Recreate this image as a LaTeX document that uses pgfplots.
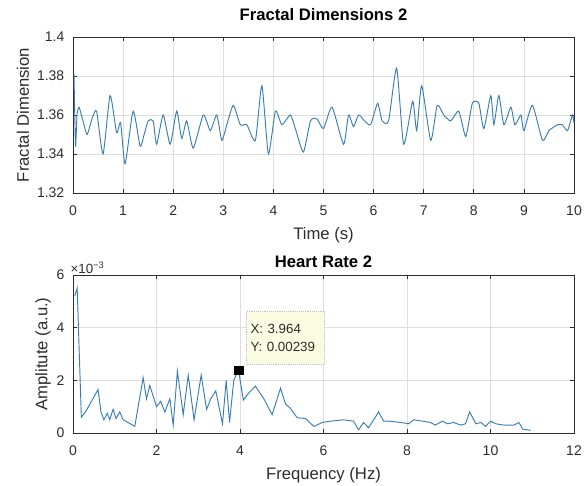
\documentclass[border=0pt]{standalone}
\usepackage{fontspec}
\setmainfont{Liberation Sans}
\usepackage{pgfplots}
\pgfplotsset{compat=1.18}

\definecolor{mline}{RGB}{55,125,180}
\definecolor{mgrid}{RGB}{222,222,222}
\definecolor{maxis}{RGB}{45,45,45}
\definecolor{tipbg}{RGB}{252,252,226}

\pgfplotsset{
  matlab/.style={
    scale only axis,
    width=375.75pt,
    grid=major,
    major grid style={mgrid, line width=0.5pt},
    axis line style={maxis, line width=0.6pt},
    tick style={maxis, line width=0.6pt},
    major tick length=3pt,
    tick align=inside,
    ticklabel style={font=\fontsize{10.5}{12}\selectfont, text=maxis},
    xticklabel style={yshift=-6pt},
    yticklabel style={xshift=-3pt},
    label style={font=\fontsize{12.5}{14}\selectfont, text=maxis},
    xlabel style={at={(axis description cs:0.5,0)}, anchor=center, yshift=-32pt},
    title style={font=\fontsize{12.5}{14}\selectfont\bfseries,
      at={(axis description cs:0.5,1)}, anchor=center, yshift=11pt},
    /pgf/number format/assume math mode=true,
    clip=true,
  },
}

\begin{document}
\begin{tikzpicture}

% ---------------- top: fractal dimension ----------------
\begin{axis}[
  matlab,
  at={(0,180pt)}, anchor=south west,
  height=117pt,
  xmin=0, xmax=10, ymin=1.32, ymax=1.4,
  xtick={0,1,...,10},
  ytick={1.32,1.34,1.36,1.38,1.4},
  yticklabels={1.32,1.34,1.36,1.38,1.4},
  title={Fractal Dimensions 2},
  xlabel={Time (s)},
  ylabel={Fractal Dimension},
  ylabel style={at={(axis description cs:-0.1,0.5)}, anchor=center},
]
\addplot[mline, line width=0.7pt, smooth, tension=0.35] coordinates {
(0.02,1.381) (0.05,1.344) (0.08,1.360) (0.12,1.364) (0.19,1.358) (0.28,1.350)
(0.38,1.358) (0.47,1.362) (0.6,1.340) (0.74,1.370) (0.87,1.351) (0.95,1.356)
(1.04,1.335) (1.2,1.362) (1.34,1.344) (1.42,1.350) (1.5,1.357) (1.6,1.357)
(1.67,1.345) (1.8,1.360) (1.94,1.345) (2.07,1.362) (2.17,1.348) (2.27,1.357)
(2.4,1.343) (2.6,1.360) (2.74,1.352) (2.87,1.360) (2.97,1.347) (3.07,1.355)
(3.2,1.365) (3.34,1.355) (3.47,1.355) (3.64,1.347) (3.77,1.375) (3.9,1.340)
(4.04,1.362) (4.17,1.355) (4.34,1.360) (4.45,1.352) (4.6,1.341) (4.74,1.357)
(4.87,1.358) (5.0,1.353) (5.17,1.364) (5.4,1.345) (5.5,1.360) (5.6,1.354)
(5.7,1.360) (5.82,1.357) (5.94,1.355) (6.08,1.366) (6.17,1.357) (6.3,1.357)
(6.46,1.384) (6.6,1.345) (6.78,1.367) (6.86,1.352) (6.96,1.375) (7.14,1.347)
(7.27,1.365) (7.4,1.360) (7.54,1.357) (7.7,1.362) (7.84,1.349) (7.97,1.366)
(8.1,1.366) (8.2,1.353) (8.34,1.370) (8.4,1.355) (8.5,1.370) (8.6,1.355)
(8.74,1.364) (8.82,1.355) (8.94,1.360) (9.0,1.352) (9.17,1.365) (9.37,1.347)
(9.5,1.352) (9.67,1.355) (9.77,1.355) (9.87,1.352) (9.97,1.360) (10,1.356)
};
\end{axis}

% ---------------- bottom: heart rate spectrum ----------------
\begin{axis}[
  matlab,
  at={(0,0)}, anchor=south west,
  height=118.5pt,
  xmin=0, xmax=12, ymin=0, ymax=0.006,
  xtick={0,2,...,12},
  ytick={0,0.002,0.004,0.006},
  scaled y ticks=base 10:3,
  ytick scale label code/.code={×10\textsuperscript{−3}},
  every y tick scale label/.style={at={(rel axis cs:0,1)}, anchor=south west,
    inner sep=1pt, font=\fontsize{10}{11}\selectfont, text=maxis},
  title={Heart Rate 2},
  title style={yshift=-7pt},
  xlabel={Frequency (Hz)},
  ylabel={Amplitute (a.u.)},
  ylabel style={at={(axis description cs:-0.06,0.5)}, anchor=center},
]
\addplot[mline, line width=0.7pt] coordinates {
(0.04,0.0052) (0.1,0.0055) (0.2,0.0006) (0.3,0.0008) (0.6,0.00165) (0.67,0.0008)
(0.74,0.0005) (0.82,0.00075) (0.88,0.0005) (0.96,0.0009) (1.03,0.00055)
(1.12,0.0008) (1.2,0.0005) (1.32,0.0004) (1.48,0.00025) (1.68,0.0021)
(1.76,0.0013) (1.84,0.0018) (2.0,0.001) (2.1,0.0012) (2.2,0.0008) (2.32,0.0013)
(2.4,0.0003) (2.5,0.00235) (2.64,0.0007) (2.76,0.0022) (2.9,0.0005) (3.07,0.0022)
(3.2,0.0009) (3.3,0.0013) (3.42,0.0016) (3.58,0.00035) (3.67,0.002) (3.75,0.0004)
(3.85,0.002) (3.964,0.00239) (4.08,0.00125) (4.2,0.0015) (4.37,0.00178)
(4.57,0.0013) (4.77,0.0007) (4.97,0.0017) (5.09,0.0011) (5.2,0.00095)
(5.37,0.00058) (5.57,0.00055) (5.77,0.00025) (5.97,0.0004) (6.17,0.00045)
(6.48,0.0005) (6.72,0.00045) (6.84,0.00012) (6.96,0.0004) (7.08,0.0002)
(7.2,0.0005) (7.32,0.0008) (7.44,0.00045) (7.56,0.00045) (7.85,0.0004)
(8.04,0.00035) (8.16,0.0005) (8.37,0.00045) (8.56,0.0004) (8.68,0.0003)
(8.85,0.00045) (8.97,0.00035) (9.12,0.0004) (9.28,0.0003) (9.4,0.00035)
(9.5,0.0008) (9.65,0.00035) (9.77,0.0004) (9.88,0.00025) (10.0,0.00045)
(10.13,0.00035) (10.32,0.0003) (10.56,0.0003) (10.68,0.0004) (10.77,0.00015)
(10.96,0.0001)
};
% data tip
\addplot[only marks, mark=square*, mark size=3.2pt, black] coordinates {(3.964,0.00239)};
\node[anchor=north west, fill=tipbg, draw=black!25, densely dotted, inner sep=3pt,
      text width=52pt, minimum height=40pt, align=left,
      font=\fontsize{10}{13.5}\selectfont, text=maxis]
  at (axis cs:4.15,0.00465) {X: 3.964\\Y: 0.00239};
\end{axis}

% page size matched to the reference
\pgfresetboundingbox
\path (-54.75pt,-39pt) rectangle (383.25pt,324.75pt);
\end{tikzpicture}
\end{document}
